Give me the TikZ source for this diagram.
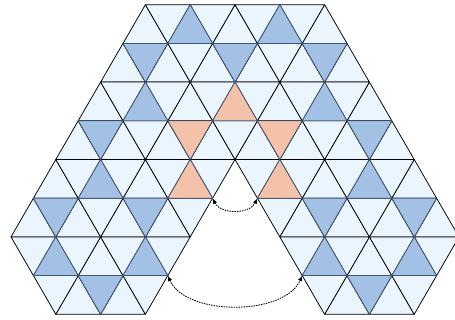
\documentclass[tikz,border=0pt]{standalone}
\usetikzlibrary{arrows.meta}
\definecolor{lightc}{HTML}{EBF5FE}
\definecolor{bluec}{HTML}{A3C1E4}
\definecolor{orac}{HTML}{F4C2A8}
\definecolor{edgec}{HTML}{42557A}
\tikzset{
  tri/.style={fill=lightc, draw=black, line width=0.75pt, line join=round},
  blu/.style={fill=bluec, draw=edgec, line width=0.75pt, line join=round},
  ora/.style={fill=orac, draw=edgec, line width=0.75pt, line join=round},
  link/.style={line width=0.85pt, dash pattern=on 1.5pt off 1pt, {Latex[length=5.5pt,width=4.5pt]}-{Latex[length=5.5pt,width=4.5pt]}}
}
% up triangle: band #1, centre #2, style #3
\newcommand\triup[3]{\path[#3] (#2,#1) -- ({#2-1},{#1+1}) -- ({#2+1},{#1+1}) -- cycle;}
\newcommand\tridn[3]{\path[#3] ({#2-1},#1) -- ({#2+1},#1) -- (#2,{#1+1}) -- cycle;}
\begin{document}
\begin{tikzpicture}[x=22.4pt,y=-38.7pt,shift={(0.491,0.1214)}]
\useasboundingbox (-0.491,-0.1214) rectangle (19.821,8.147);
\clip (-0.491,-0.1214) rectangle (19.821,8.147);
% light triangles
\foreach \i in {6,8,...,14} {\triup{0}{\i}{tri}}
\foreach \i in {7,9,...,13} {\tridn{0}{\i}{tri}}
\foreach \i in {5,7,...,15} {\triup{1}{\i}{tri}}
\foreach \i in {6,8,...,14} {\tridn{1}{\i}{tri}}
\foreach \i in {4,6,...,16} {\triup{2}{\i}{tri}}
\foreach \i in {5,7,...,15} {\tridn{2}{\i}{tri}}
\foreach \i in {3,5,...,17} {\triup{3}{\i}{tri}}
\foreach \i in {4,6,...,16} {\tridn{3}{\i}{tri}}
\foreach \i in {2,4,6,8,12,14,16,18} {\triup{4}{\i}{tri}}
\foreach \i in {3,5,7,9,11,13,15,17} {\tridn{4}{\i}{tri}}
\foreach \i in {1,3,5,7,13,15,17,19} {\triup{5}{\i}{tri}}
\foreach \i in {2,4,6,8,12,14,16,18} {\tridn{5}{\i}{tri}}
\foreach \i in {2,4,6,14,16,18} {\triup{6}{\i}{tri}}
\foreach \i in {1,3,5,7,13,15,17,19} {\tridn{6}{\i}{tri}}
\foreach \i in {3,5,15,17} {\triup{7}{\i}{tri}}
\foreach \i in {2,4,6,14,16,18} {\tridn{7}{\i}{tri}}
% blue triangles
\foreach \i in {8,12} {\triup{0}{\i}{blu}}
\foreach \i in {6,10,14} {\tridn{1}{\i}{blu}}
\foreach \i in {6,14} {\triup{2}{\i}{blu}}
\foreach \i in {4,16} {\tridn{3}{\i}{blu}}
\foreach \i in {4,16} {\triup{4}{\i}{blu}}
\foreach \i in {2,6,14,18} {\tridn{5}{\i}{blu}}
\foreach \i in {2,6,14,18} {\triup{6}{\i}{blu}}
\foreach \i in {4,16} {\tridn{7}{\i}{blu}}
% orange triangles
\triup{2}{10}{ora}
\tridn{3}{8}{ora}
\tridn{3}{12}{ora}
\triup{4}{8}{ora}
\triup{4}{12}{ora}
% connectors
\coordinate (a1) at (9,5);
\coordinate (a2) at (11,5);
\coordinate (b1) at (7,7);
\coordinate (b2) at (13,7);
\draw[link] (a1) .. controls +(0.35,0.42) and +(-0.35,0.42) .. (a2);
\draw[link] (b1) .. controls +(0.8,1.05) and +(-0.8,1.05) .. (b2);
\end{tikzpicture}
\end{document}
